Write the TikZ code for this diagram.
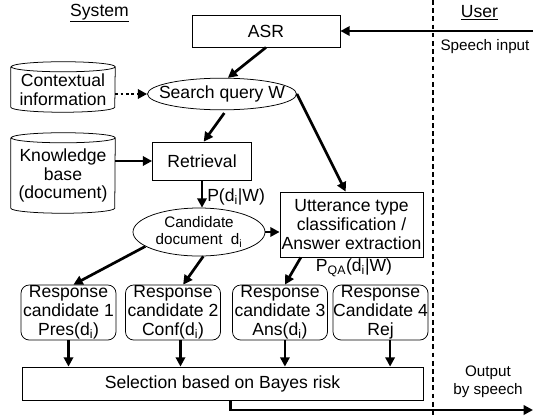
\documentclass[tikz,border=0pt]{standalone}
\usepackage{fontspec}
\setmainfont{Liberation Sans}
\usetikzlibrary{arrows.meta,shapes.geometric}
\newcommand{\dbshape}[1]{\draw[line width=0.65pt] (#1.north west) -- ([yshift=4.3pt]#1.south west)
  arc[start angle=180,end angle=360,x radius=1.56cm,y radius=4.3pt] -- (#1.north east)
  arc[start angle=0,end angle=360,x radius=1.56cm,y radius=4.3pt];}

\begin{document}
\begin{tikzpicture}[x=0.03cm,y=-0.03cm]
\tikzstyle{every node}=[font=\fontsize{15}{16}\selectfont]
\tikzset{
  blk/.style={draw,line width=0.65pt,align=center,inner sep=0pt},
  oval/.style={ellipse,draw,line width=0.65pt,inner sep=0pt},
  db/.style={align=center,inner sep=0pt,minimum width=3.12cm},
  resp/.style={blk,rounded corners=7pt,minimum width=2.85cm,minimum height=1.65cm},
  arr/.style={-{Triangle[length=2.8mm,width=2.8mm]},line width=2.3pt},
  dotarr/.style={arr,dash pattern=on 2.3pt off 2.3pt},
  smalltxt/.style={font=\fontsize{13}{15}\selectfont,align=center}
}
\useasboundingbox (0,0) rectangle (533,416);
\draw[line width=0.9pt,dash pattern=on 4pt off 3pt] (433,0) -- (433,416);
\node (sys) at (99.5,13) {\underline{System}};
\node (usr) at (479.5,13) {\underline{User}};
\node[blk,minimum width=4.44cm,minimum height=0.96cm] (asr) at (266,31) {ASR};
\coordinate (uin) at (533,31);
\node[smalltxt] (spin) at (485,47) {Speech input};
\node[db,minimum height=1.35cm] (ctx) at (63,89.5) {Contextual\\information};
\dbshape{ctx}
\node[oval,minimum width=4.47cm,minimum height=0.95cm,label=center:Search query W] (sq) at (222,94) {};
\node[db,minimum height=2.25cm] (kb) at (63,175.5) {Knowledge\\base\\(document)};
\dbshape{kb}
\node[blk,minimum width=2.97cm,minimum height=1.14cm] (ret) at (202,161) {Retrieval};
\node[oval,minimum width=3.96cm,minimum height=1.44cm,
  label={[smalltxt]center:Candidate\\document\ \ d\textsubscript{i}}] (cand) at (199,232) {};
\node[blk,minimum width=4.29cm,minimum height=1.95cm] (utt) at (351.5,224.5) {Utterance type\\classification /\\Answer extraction};
\node (pqa) at (354,268) {P\textsubscript{QA}(d\textsubscript{i}|W)};
\node[resp] (r1) at (68.5,312.5) {Response\\candidate 1\\Pres(d\textsubscript{i})};
\node[resp] (r2) at (173,312.5) {Response\\candidate 2\\Conf(d\textsubscript{i})};
\node[resp] (r3) at (280,312.5) {Response\\candidate 3\\Ans(d\textsubscript{i})};
\node[resp] (r4) at (380.5,312.5) {Response\\Candidate 4\\Rej};
\node[blk,minimum width=12.03cm,minimum height=0.99cm] (sel) at (222.5,383.5) {Selection based on Bayes risk};
\node[smalltxt] (outp) at (488,382) {Output\\by speech};
\coordinate (uout) at (533,410);
\draw[arr] (uin) -- (asr.east);
\draw[arr] (asr.south) -- (sq.70);
\draw[dotarr] (ctx.east |- sq.west) -- (sq.west);
\draw[arr,shorten <=3pt] (sq.-75) -- (ret.85);
\draw[arr] (sq.east) -- (utt.100);
\draw[arr] (kb.east |- ret.west) -- (ret.west);
\draw[arr] (ret.south) -- node[right,pos=0.6]{P(d\textsubscript{i}|W)} (ret.south |- cand.north);
\draw[arr] (cand.east) -- (cand.east -| utt.west);
\draw[arr] (cand.195) -- (r1.80);
\draw[arr] (cand.-80) -- (r2.70);
\draw[arr] (utt.-147) -- (r3.80);
\draw[arr] (r1.south) -- (r1.south |- sel.north);
\draw[arr] (r2.-75) -- (r2.-75 |- sel.north);
\draw[arr] (r3.-80) -- (r3.-80 |- sel.north);
\draw[arr] (r4.-71) -- (r4.-71 |- sel.north);
\draw[arr] (sel.south) ++(8,0) |- (uout);
\end{tikzpicture}
\end{document}
